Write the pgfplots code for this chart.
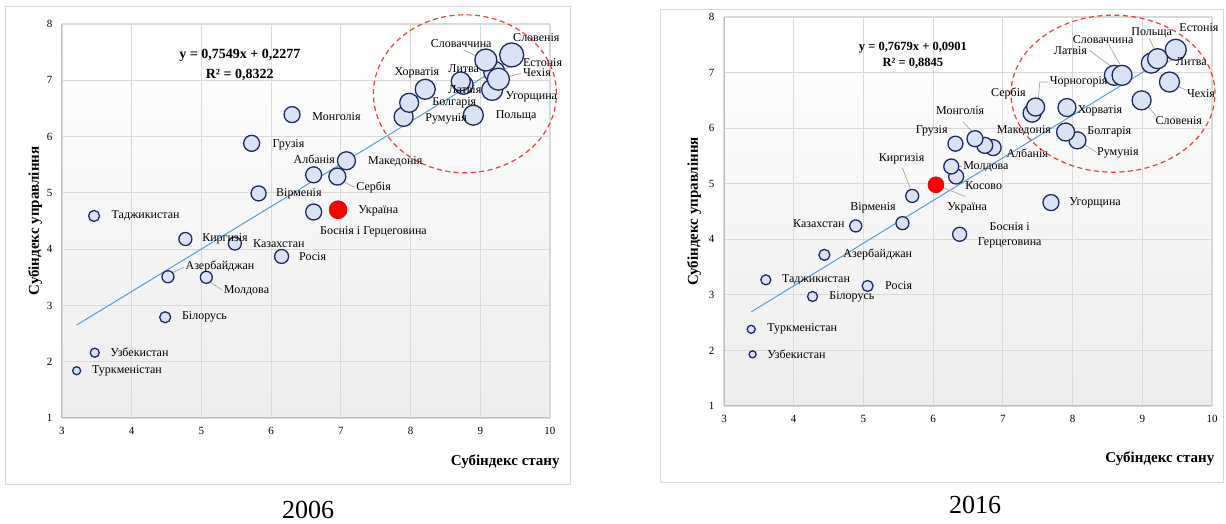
\documentclass[border=0pt]{standalone}
\usepackage{fontspec}
\setmainfont{Liberation Serif}
\usepackage{pgfplots}
\usepackage{pgfplotstable}
\pgfplotsset{compat=1.18}

\definecolor{bubblefill}{HTML}{DAE3F3}
\definecolor{bubbleline}{HTML}{1F2A63}
\definecolor{trend}{HTML}{5B9BD5}
\definecolor{gridc}{HTML}{D9D9D9}
\definecolor{axisc}{HTML}{BFBFBF}
\definecolor{framec}{HTML}{D9D9D9}
\definecolor{ellc}{HTML}{F03C3C}
\definecolor{leadc}{HTML}{A6A6A6}

\newcommand\lblfont{\fontsize{12}{15}\selectfont}
\newcommand\tickfont{\fontsize{11}{13}\selectfont}
\newcommand\labfont{\fontsize{15}{17}\selectfont\bfseries}
\newcommand\capfont{\fontsize{26}{30}\selectfont}
\protected\def\bosnia{Боснія і\\Герцеговина}

% 2006: x = субіндекс стану, y = субіндекс управління, r = радіус бульбашки
\pgfplotstableread[col sep=semicolon]{
x;y;r;lx;ly;name
3.21;1.84;4;3.43;1.84;Туркменістан
3.47;2.16;4.5;3.69;2.16;Узбекистан
3.46;4.59;5.5;3.71;4.59;Таджикистан
4.48;2.79;5.5;4.72;2.79;Білорусь
4.52;3.51;6;4.77;3.69;Азербайджан
5.07;3.50;6;5.32;3.26;Молдова
4.77;4.18;6.5;5.01;4.18;Киргизія
5.48;4.10;6.5;5.74;4.10;Казахстан
6.15;3.87;7;6.40;3.86;Росія
5.82;4.99;7.5;6.07;4.98;Вірменія
5.72;5.88;8;6.02;5.86;Грузія
6.30;6.39;8;6.59;6.36;Монголія
6.61;4.66;8;6.70;4.30;Боснія і Герцеговина
6.61;5.32;8;6.32;5.59;Албанія
6.95;5.29;8.5;7.22;5.10;Сербія
7.08;5.57;9;7.39;5.55;Македонія
6.96;4.70;8.5;7.25;4.68;Україна
7.90;6.35;9.5;8.21;6.32;Румунія
7.98;6.60;9.5;8.31;6.60;Болгарія
8.21;6.84;10;7.77;7.14;Хорватія
8.90;6.38;10;9.22;6.36;Польща
8.76;6.92;9.5;8.54;6.83;Латвія
8.72;6.98;9.5;8.54;7.21;Литва
9.17;6.83;10.5;9.36;6.71;Угорщина
9.20;7.15;10.5;9.61;7.32;Естонія
9.26;7.02;11;9.61;7.14;Чехія
9.08;7.36;11;8.29;7.66;Словаччина
9.45;7.45;12;9.47;7.76;Словенія
}\tabA

% 2016
\pgfplotstableread[col sep=semicolon]{
x;y;r;lx;ly;name
3.41;1.93;3.5;3.62;1.93;Узбекистан
3.39;2.38;4;3.62;2.38;Туркменістан
3.60;3.27;5;3.83;3.27;Таджикистан
4.27;2.97;5;4.51;2.97;Білорусь
5.06;3.16;5.5;5.31;3.16;Росія
4.44;3.72;5.5;4.71;3.72;Азербайджан
4.89;4.24;6;3.99;4.29;Казахстан
5.56;4.29;6.5;4.81;4.56;Вірменія
5.70;4.78;6.5;5.22;5.44;Киргизія
6.38;4.09;7;6.64;4.07;\bosnia
7.69;4.66;8;7.95;4.66;Угорщина
6.04;4.98;7.5;6.20;4.56;Україна
6.33;5.13;7.5;6.46;4.96;Косово
6.26;5.31;7.5;6.43;5.31;Молдова
6.32;5.72;7.5;5.75;5.96;Грузія
6.86;5.65;8;7.05;5.54;Албанія
6.74;5.69;8;6.91;5.96;Македонія
6.60;5.81;8;6.04;6.32;Монголія
8.07;5.78;8.5;8.35;5.56;Румунія
7.90;5.93;9;8.21;5.93;Болгарія
7.92;6.37;9;8.07;6.31;Хорватія
7.42;6.27;9;6.83;6.62;Сербія
7.47;6.38;9;7.67;6.83;Чорногорія
8.99;6.50;9.5;9.19;6.14;Словенія
9.39;6.83;10;9.64;6.62;Чехія
8.60;6.95;10;7.73;7.39;Латвія
8.71;6.95;10;8.00;7.60;Словаччина
9.13;7.17;10;9.48;7.19;Литва
9.22;7.25;10;8.84;7.72;Польща
9.48;7.41;10.5;9.53;7.81;Естонія
}\tabB

\pgfplotsset{
  bubblechart/.style={
    scale only axis,
    anchor=south west,
    xmin=3, xmax=10, ymin=1, ymax=8,
    xtick={3,...,10}, ytick={1,...,8},
    grid=major,
    major grid style={draw=gridc, line width=1.1pt},
    axis x line*=bottom, axis y line*=left,
    axis line style={draw=axisc, line width=1pt},
    major tick length=0pt,
    tick label style={font=\tickfont},
    /pgf/number format/assume math mode=true,
    xticklabel style={yshift=-6pt},
    yticklabel style={xshift=-6pt},
    axis background/.style={shade, top color=white, bottom color=black!7},
    clip=false,
    xlabel={Субіндекс стану},
    ylabel={Субіндекс управління},
    label style={font=\labfont},
  },
  % radius = r pt, via point meta mapped on [0,12]
  bubbles/.style={
    scatter, only marks, mark=*,
    point meta=explicit,
    point meta min=0, point meta max=12,
    scatter/use mapped color={draw=bubbleline, fill=bubblefill},
    mark options={line width=1.3pt},
    scatter/@pre marker code/.append style={/tikz/mark size=12pt*\pgfplotspointmetatransformed/1000},
  },
  countrylabels/.style={
    only marks, mark=*, mark size=0pt, mark options={draw=none, fill=none},
    point meta=explicit symbolic,
    nodes near coords,
    every node near coord/.append style={font=\lblfont, inner sep=0pt, align=center, text=black, anchor=west},
  },
}

\tikzset{leader/.style={draw=leadc, line width=0.7pt}}

\begin{document}
\begin{tikzpicture}
\useasboundingbox (0,0) rectangle (1226pt,524pt);
\draw[framec, line width=1pt] (5pt,39pt) rectangle (570pt,517pt);
\draw[framec, line width=1pt] (660pt,41pt) rectangle (1223pt,514pt);
\node[font=\capfont] at (308pt,14pt) {2006};
\node[font=\capfont] at (975pt,19pt) {2016};

% ---- 2006 ----
\begin{axis}[bubblechart,
  at={(62pt,106pt)}, width=488pt, height=394pt,
  xlabel style={at={(axis description cs:1.027,-0.112)}, anchor=east},
  ylabel style={at={(axis description cs:-0.055,0.5)}, anchor=center},
]
\addplot[bubbles] table[x=x, y=y, meta=r] \tabA;
\addplot[trend, line width=1pt] coordinates {(3.21,2.651) (9.45,7.362)};
\addplot[only marks, mark=*, mark size=8.5pt, mark options={draw=red, fill=red, line width=1.3pt}] coordinates {(6.96,4.70)};
\addplot[countrylabels] table[x=lx, y=ly, meta=name] \tabA;
\draw[leader] (axis cs:7.03,5.20) -- (axis cs:7.20,5.10);
\draw[leader] (axis cs:4.58,3.58) -- (axis cs:4.75,3.68);
\draw[leader] (axis cs:5.12,3.42) -- (axis cs:5.30,3.27);
\draw[leader] (axis cs:8.76,7.54) -- (axis cs:9.02,7.38);
\draw[leader] (axis cs:9.58,7.30) -- (axis cs:9.35,7.20);
\draw[leader] (axis cs:9.58,7.12) -- (axis cs:9.32,7.04);
\draw[ellc, dash pattern=on 5pt off 3.5pt, line width=1.2pt] (axis cs:8.78,6.76) ellipse [x radius=91.5pt, y radius=79pt];
\node[font=\fontsize{14}{20}\selectfont\bfseries, align=center] at (axis cs:5.55,7.27) {y = 0,7549x + 0,2277\\R² = 0,8322};
\end{axis}

% ---- 2016 ----
\begin{axis}[bubblechart,
  at={(724pt,118pt)}, width=488pt, height=389pt,
  xlabel style={at={(axis description cs:1.012,-0.136)}, anchor=east},
  ylabel style={at={(axis description cs:-0.061,0.5)}, anchor=center},
]
\addplot[bubbles] table[x=x, y=y, meta=r] \tabB;
\addplot[trend, line width=1pt] coordinates {(3.39,2.693) (9.48,7.370)};
\addplot[only marks, mark=*, mark size=7.5pt, mark options={draw=red, fill=red, line width=1.3pt}] coordinates {(6.04,4.98)};
\addplot[countrylabels] table[x=lx, y=ly, meta=name] \tabB;
\draw[leader] (axis cs:8.24,7.40) -- (axis cs:8.63,7.04);
\draw[leader] (axis cs:8.52,7.50) -- (axis cs:8.74,7.01);
\draw[leader] (axis cs:9.10,7.62) -- (axis cs:9.22,7.28);
\draw[leader] (axis cs:9.48,7.25) -- (axis cs:9.28,7.16);
\draw[leader] (axis cs:9.64,6.68) -- (axis cs:9.42,6.80);
\draw[leader] (axis cs:9.19,6.23) -- (axis cs:9.02,6.47);
\draw[leader] (axis cs:7.65,6.83) -- (axis cs:7.53,6.83) -- (axis cs:7.50,6.40);
\draw[leader] (axis cs:6.43,6.11) -- (axis cs:6.63,5.84);
\draw[leader] (axis cs:5.56,5.28) -- (axis cs:5.70,4.82);
\draw[leader] (axis cs:6.41,5.31) -- (axis cs:6.28,5.31);
\draw[leader] (axis cs:6.06,4.97) -- (axis cs:6.46,4.77);
\draw[leader] (axis cs:8.35,5.56) -- (axis cs:8.12,5.74);
\draw[ellc, dash pattern=on 5pt off 3.5pt, line width=1.2pt] (axis cs:8.58,6.62) ellipse [x radius=102pt, y radius=78.5pt];
\node[font=\fontsize{12.5}{16}\selectfont\bfseries, align=center] at (axis cs:5.71,7.31) {y = 0,7679x + 0,0901\\R² = 0,8845};
\end{axis}
\end{tikzpicture}
\end{document}
